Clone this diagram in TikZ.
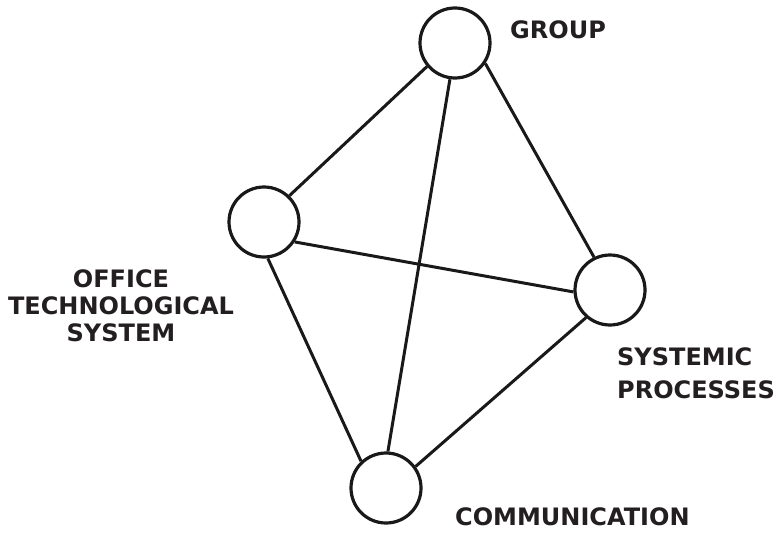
\documentclass[tikz,border=0pt]{standalone}
\usepackage{fontspec}
\setmainfont{DejaVu Sans}
\definecolor{ink}{HTML}{231F20}
\begin{document}
\begin{tikzpicture}[x=1pt,y=-1pt,
  vertex/.style={circle,draw=black!90,line width=3.2pt,minimum size=70pt,inner sep=0pt},
  link/.style={draw=black!90,line width=3pt},
  lbl/.style={text=ink,font=\fontsize{24}{27}\selectfont\bfseries,inner sep=0pt}]
\useasboundingbox (0,0) rectangle (775,532);
\node[vertex] (grp) at (455,43) {};
\node[vertex] (off) at (264,222) {};
\node[vertex] (sys) at (610,290) {};
\node[vertex] (com) at (386,488) {};
\draw[link] (off.46) -- (grp.220);
\draw[link] (grp.-34) -- (sys.116);
\draw[link] (grp.-98) -- (com.87);
\draw[link] (off.-33) -- (sys.183);
\draw[link] (off.-84) -- (com.133);
\draw[link] (sys.229) -- (com.36);
\node[lbl,anchor=base west] (tgrp) at (510,39) {GROUP};
\node[lbl,anchor=base,align=center] (toff) at (121,341) {OFFICE\\TECHNOLOGICAL\\SYSTEM};
\node[lbl,anchor=base west,align=left,font=\fontsize{24}{33}\selectfont\bfseries] (tsys) at (617,398) {SYSTEMIC\\PROCESSES};
\node[lbl,anchor=base west] (tcom) at (455,525) {COMMUNICATION};
\end{tikzpicture}
\end{document}
